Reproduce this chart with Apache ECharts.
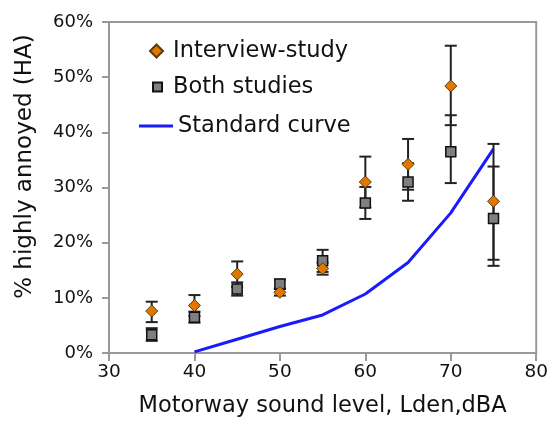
<!DOCTYPE html>
<html>
<head>
<meta charset="utf-8">
<script src="https://cdn.jsdelivr.net/npm/echarts@6/dist/echarts.min.js"></script>
<style>
  html, body { margin: 0; padding: 0; background: #fff; }
  #chart { width: 551px; height: 423px; }
</style>
</head>
<body>
<div id="chart"></div>
<script>
// Motorway sound level (Lden, dBA) for each measured group
var levels = [35, 40, 45, 50, 55, 60, 65, 70, 75];

// Interview-study: % highly annoyed with its confidence range
var interviewHA   = [7.6, 8.6, 14.3, 11.0, 15.3, 31.0, 34.2, 48.4, 27.5];
var interviewLow  = [5.6, 6.7, 12.0, 10.4, 14.2, 26.4, 29.6, 41.3, 16.9];
var interviewHigh = [9.3, 10.5, 16.6, 11.6, 16.4, 35.6, 38.8, 55.7, 37.9];

// Both studies combined
var bothHA   = [3.3, 6.5, 11.6, 12.5, 16.7, 27.2, 31.0, 36.5, 24.4];
var bothLow  = [2.2, 5.5, 10.4, 11.7, 14.7, 24.3, 27.6, 30.8, 15.8];
var bothHigh = [4.5, 7.5, 12.8, 13.3, 18.7, 30.1, 34.4, 43.1, 33.8];

// Standard exposure-response curve for road traffic
var curveLevels = [40, 45, 50, 55, 60, 65, 70, 75];
var curveHA     = [0.2, 2.5, 4.8, 6.9, 10.7, 16.4, 25.4, 37.0];

var xTicks = [30, 40, 50, 60, 70, 80];
var yTicks = [0, 10, 20, 30, 40, 50, 60];

var FONT = 'DejaVu Sans';

function pairs(xs, ys) {
  return xs.map(function (x, i) { return [x, ys[i]]; });
}

function errorBarSeries(name, low, high) {
  return {
    type: 'custom',
    name: name,
    silent: true,
    z: 2,
    encode: { x: 0, y: [1, 2] },
    data: levels.map(function (x, i) { return [x, low[i], high[i]]; }),
    renderItem: function (params, api) {
      var x = api.value(0);
      var lo = api.coord([x, api.value(1)]);
      var hi = api.coord([x, api.value(2)]);
      var hw = 6;
      var st = { stroke: '#222', lineWidth: 2 };
      return {
        type: 'group',
        children: [
          { type: 'line', shape: { x1: lo[0], y1: lo[1], x2: hi[0], y2: hi[1] }, style: st },
          { type: 'line', shape: { x1: lo[0] - hw, y1: lo[1], x2: lo[0] + hw, y2: lo[1] }, style: st },
          { type: 'line', shape: { x1: hi[0] - hw, y1: hi[1], x2: hi[0] + hw, y2: hi[1] }, style: st }
        ]
      };
    }
  };
}

var legendText = { fontFamily: FONT, fontSize: 22.5, color: '#111', lineHeight: 24 };

var chart = echarts.init(document.getElementById('chart'));
chart.setOption({
  animation: false,
  backgroundColor: '#fff',
  grid: {
    left: 109, right: 13, top: 22, bottom: 69,
    show: true, borderColor: '#999', borderWidth: 2
  },
  legend: [
    {
      data: ['Interview-study'], left: 144, top: 34, icon: 'diamond',
      itemWidth: 13, itemHeight: 13,
      textStyle: Object.assign({ padding: [0, 0, 0, 5] }, legendText)
    },
    {
      data: ['Both studies'], left: 147, top: 70, icon: 'rect',
      itemWidth: 9, itemHeight: 9,
      textStyle: Object.assign({ padding: [0, 0, 0, 6] }, legendText)
    },
    {
      data: [{ name: 'Standard curve', icon: 'rect' }], left: 134, top: 109,
      itemWidth: 34, itemHeight: 3,
      textStyle: Object.assign({ padding: [0, 0, 0, 0] }, legendText)
    }
  ],
  xAxis: {
    type: 'value', min: xTicks[0], max: xTicks[xTicks.length - 1], interval: 10,
    name: 'Motorway sound level, Lden,dBA',
    nameLocation: 'middle', nameGap: 42,
    nameTextStyle: { fontFamily: FONT, fontSize: 22.5, color: '#111' },
    axisLine: { lineStyle: { color: '#999', width: 2 } },
    axisTick: { show: true, length: 8, lineStyle: { color: '#999', width: 2 } },
    axisLabel: { fontFamily: FONT, fontSize: 18.5, color: '#111', margin: 10 },
    splitLine: { show: false }
  },
  yAxis: {
    type: 'value', min: yTicks[0], max: yTicks[yTicks.length - 1], interval: 10,
    name: '% highly annoyed (HA)',
    nameLocation: 'middle', nameGap: 72, nameRotate: 90,
    nameTextStyle: { fontFamily: FONT, fontSize: 23, color: '#111', padding: [0, 0, 0, 42] },
    axisLine: { show: true, lineStyle: { color: '#999', width: 2 } },
    axisTick: { show: true, length: 7, lineStyle: { color: '#999', width: 2 } },
    axisLabel: { fontFamily: FONT, fontSize: 18, color: '#111', margin: 16, formatter: '{value}%' },
    splitLine: { show: false }
  },
  series: [
    {
      type: 'line', name: 'Standard curve', z: 1,
      data: pairs(curveLevels, curveHA),
      symbol: 'none', color: '#1a1aff',
      itemStyle: { color: '#1a1aff' },
      lineStyle: { color: '#1a1aff', width: 3 }
    },
    errorBarSeries('Both studies range', bothLow, bothHigh),
    errorBarSeries('Interview-study range', interviewLow, interviewHigh),
    {
      type: 'scatter', name: 'Both studies', z: 3,
      data: pairs(levels, bothHA),
      symbol: 'rect', symbolSize: 10,
      itemStyle: { color: '#7f7f7f', borderColor: '#111', borderWidth: 1.5, opacity: 1 }
    },
    {
      type: 'scatter', name: 'Interview-study', z: 4,
      data: pairs(levels, interviewHA),
      symbol: 'diamond', symbolSize: 12,
      itemStyle: { color: '#e07800', borderColor: '#5a3a10', borderWidth: 1, opacity: 1 }
    }
  ]
});
</script>
</body>
</html>
